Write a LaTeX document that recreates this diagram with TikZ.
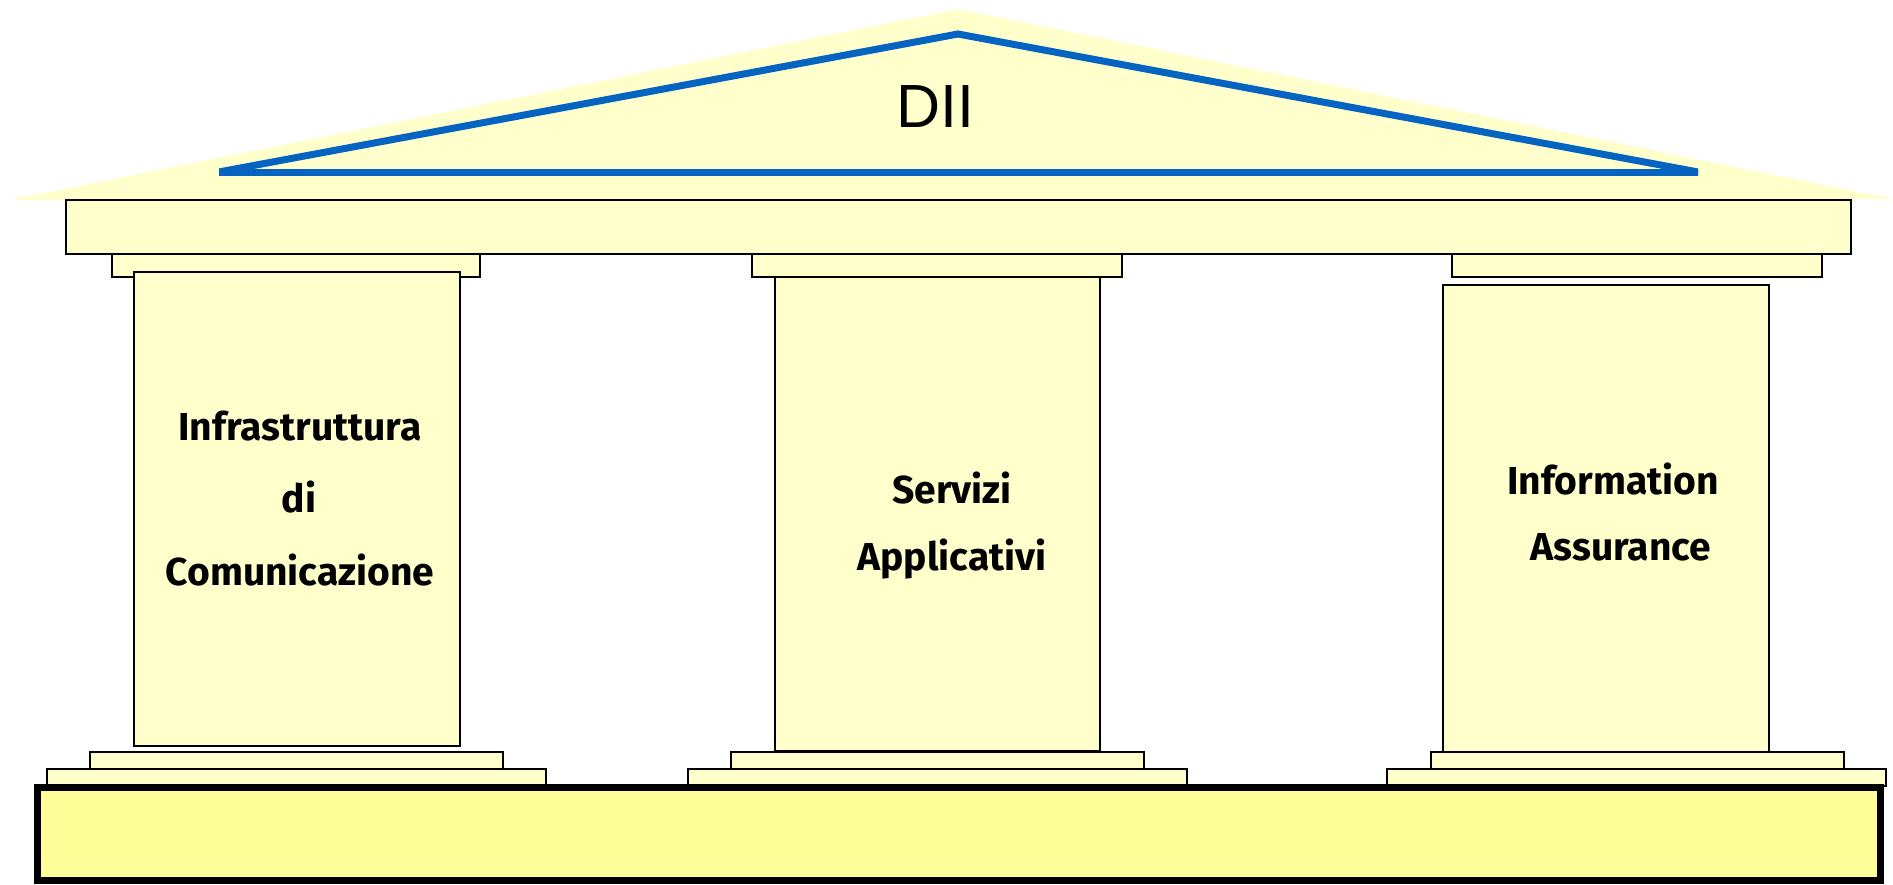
\documentclass[tikz,border=0pt]{standalone}
\usepackage{fontspec}
\setmainfont{Liberation Sans}
\newfontfamily\colfont{Fira Sans}
\definecolor{paley}{HTML}{FFFFCC}
\definecolor{basey}{HTML}{FFFF99}
\definecolor{dblue}{HTML}{0563C1}
\begin{document}
\begin{tikzpicture}[x=0.5pt,y=-0.5pt,
  part/.style={draw=black, fill=paley, line width=0.7pt},
  basepart/.style={draw=black, fill=basey, line width=3.5pt},
  roofline/.style={draw=dblue, line width=3.5pt},
  coltext/.style={anchor=base, inner sep=0pt, font=\colfont\bfseries\fontsize{19.5}{22}\selectfont},
  titletext/.style={anchor=base, inner sep=0pt, font=\fontsize{30.5}{34}\selectfont}]
\useasboundingbox (0,0) rectangle (1893,884);
% roof
\fill[paley] (10,200) -- (958,9) -- (1893,199) -- cycle;
\begin{scope}
  \clip (219,0) rectangle (1698,200);
  \draw[roofline] (200,172) -- (1720,172);
  \draw[roofline] (200,175.5) -- (958,34) -- (1720,176.1);
\end{scope}
\node[titletext] (dii) at (935,127) {DII};
% entablature
\draw[part] (66,200) rectangle (1851,254);
% capitals
\draw[part] (112,254) rectangle (480,277);
\draw[part] (752,254) rectangle (1122,277);
\draw[part] (1452,254) rectangle (1822,277);
% shafts
\draw[part] (134,272) rectangle (460,746);
\draw[part] (775,277) rectangle (1100,751);
\draw[part] (1443,285) rectangle (1769,752);
% plinths
\draw[part] (47,769) rectangle (546,786);
\draw[part] (90,752) rectangle (503,769);
\draw[part] (688,769) rectangle (1187,786);
\draw[part] (731,752) rectangle (1144,769);
\draw[part] (1387,769) rectangle (1886,786);
\draw[part] (1431,752) rectangle (1844,769);
% base
\draw[basepart] (37.5,787.5) rectangle (1880.5,880.5);
% texts
\node[coltext] (c1a) at (300,440) {Infrastruttura};
\node[coltext] (c1b) at (299,512) {di};
\node[coltext] (c1c) at (300,585) {Comunicazione};
\node[coltext] (c2a) at (952,503) {Servizi};
\node[coltext] (c2b) at (952,570) {Applicativi};
\node[coltext] (c3a) at (1613,494) {Information};
\node[coltext] (c3b) at (1621,560) {Assurance};
\end{tikzpicture}
\end{document}
